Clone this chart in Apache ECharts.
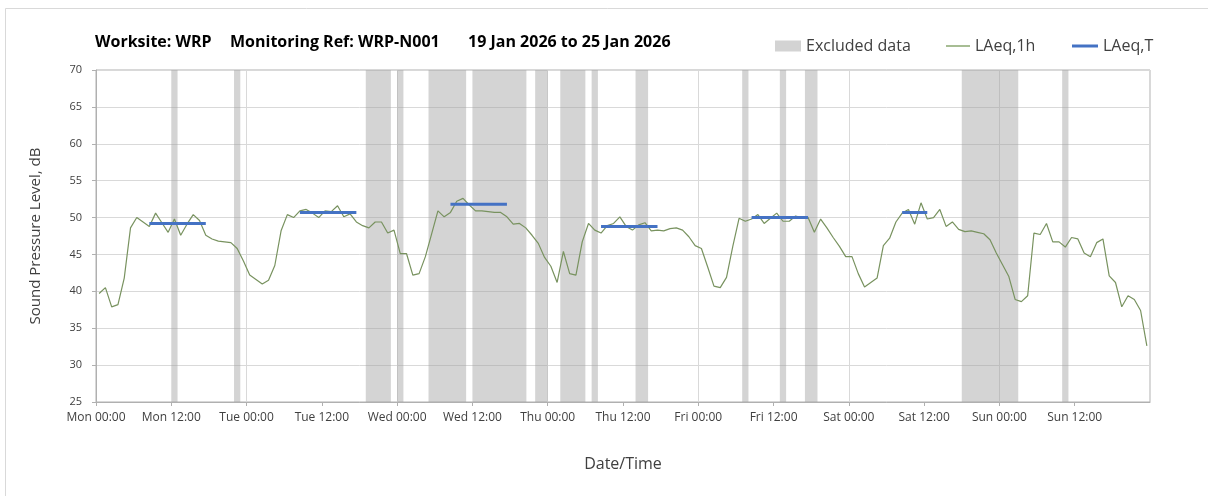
<!DOCTYPE html>
<html>
<head>
<meta charset="utf-8">
<script src="https://cdn.jsdelivr.net/npm/echarts@6/dist/echarts.min.js"></script>
<style>
  html, body { margin: 0; background: #fff; }
  #chart { width: 1208px; height: 496px; }
</style>
</head>
<body>
<div id="chart"></div>
<script>
const dayNames = ['Mon', 'Tue', 'Wed', 'Thu', 'Fri', 'Sat', 'Sun'];

// LAeq,1h, one value per hour from Mon 00:00
const hourlyLevels = [
  39.7, 40.5, 37.9, 38.2, 41.8, 48.6, 50.0, 49.4, 48.8, 50.6, 49.3, 48.0,
  49.8, 47.6, 49.1, 50.4, 49.6, 47.6, 47.1, 46.8, 46.7, 46.6, 45.8, 44.1,
  42.2, 41.6, 41.0, 41.5, 43.5, 48.2, 50.4, 50.0, 50.9, 51.1, 50.6, 50.0,
  50.9, 50.8, 51.6, 50.1, 50.5, 49.4, 48.9, 48.6, 49.4, 49.4, 47.9, 48.3,
  45.1, 45.1, 42.2, 42.4, 44.7, 47.8, 50.9, 50.1, 50.7, 52.2, 52.6, 51.7,
  50.9, 50.9, 50.8, 50.7, 50.7, 50.1, 49.1, 49.2, 48.6, 47.6, 46.5, 44.6,
  43.4, 41.2, 45.4, 42.4, 42.2, 46.7, 49.2, 48.3, 47.9, 48.9, 49.2, 50.1,
  48.8, 48.3, 49.0, 49.3, 48.2, 48.3, 48.2, 48.5, 48.6, 48.3, 47.4, 46.2,
  45.8, 43.3, 40.7, 40.5, 41.9, 46.1, 49.9, 49.5, 49.8, 50.4, 49.2, 49.9,
  50.6, 49.5, 49.5, 50.2, 50.0, 50.0, 48.0, 49.8, 48.6, 47.3, 46.1, 44.7,
  44.7, 42.4, 40.6, 41.2, 41.8, 46.2, 47.2, 49.4, 50.6, 51.1, 49.1, 52.0,
  49.8, 50.0, 51.1, 48.8, 49.4, 48.4, 48.1, 48.2, 48.0, 47.8, 47.0, 45.2,
  43.6, 42.0, 38.9, 38.6, 39.4, 47.9, 47.7, 49.2, 46.7, 46.7, 46.0, 47.3,
  47.1, 45.2, 44.7, 46.6, 47.1, 42.1, 41.2, 37.9, 39.4, 38.9, 37.4, 32.6
];

// LAeq,T periods (hours from Mon 00:00)
const periodStart = [8.5, 32.5, 56.5, 80.5, 104.5, 128.5];
const periodEnd = [17.5, 41.5, 65.5, 89.5, 113.5, 132.5];
const periodLevel = [49.2, 50.7, 51.8, 48.8, 50.0, 50.7];

// excluded data blocks (hours from Mon 00:00)
const excludedStart = [12, 22, 43, 48, 53, 60, 70, 74, 79, 86, 103, 109, 113, 138, 154];
const excludedEnd = [13, 23, 47, 49, 59, 68.6, 72, 78, 80, 88, 104, 110, 115, 147, 155];

const yMin = 25;
const yMax = 70;

const font = '"Open Sans", "Noto Sans", sans-serif';
const textGrey = '#404040';
const gridGrey = '#d9d9d9';
const axisGrey = '#b0b0b0';

const chart = echarts.init(document.getElementById('chart'), null, { renderer: 'canvas' });

const periodSeries = periodStart.map((s, i) => ({
  name: 'LAeq,T',
  type: 'line',
  z: 4,
  showSymbol: false,
  silent: true,
  lineStyle: { color: '#4472c4', width: 3 },
  itemStyle: { color: '#4472c4' },
  data: [[s, periodLevel[i]], [periodEnd[i], periodLevel[i]]],
}));

chart.setOption({
  animation: false,
  backgroundColor: '#fff',
  textStyle: { fontFamily: font },
  graphic: [{
    type: 'rect',
    shape: { x: 5.5, y: 8.5, width: 1400, height: 700 },
    style: { fill: 'none', stroke: gridGrey, lineWidth: 1 },
    silent: true,
  }],
  title: [
    { text: 'Worksite: WRP', left: 90 },
    { text: 'Monitoring Ref: WRP-N001', left: 225 },
    { text: '19 Jan 2026 to 25 Jan 2026', left: 463 },
  ].map((t) => ({
    ...t,
    top: 29,
    textStyle: { fontFamily: font, fontSize: 16, fontWeight: 'bold', color: '#000' },
  })),
  legend: [
    { data: [{ name: 'Excluded data', icon: 'rect', itemStyle: { color: '#d3d3d3' } }], left: 770, itemWidth: 26, itemHeight: 11 },
    { data: [{ name: 'LAeq,1h', icon: 'rect', itemStyle: { color: '#4f7a28' } }], left: 941, itemWidth: 24, itemHeight: 1 },
    { data: [{ name: 'LAeq,T', icon: 'rect', itemStyle: { color: '#4472c4' } }], left: 1067, itemWidth: 26, itemHeight: 3 },
  ].map((l) => ({
    ...l,
    top: 33,
    selectedMode: false,
    itemGap: 0,
    textStyle: { fontFamily: font, fontSize: 16, color: textGrey },
  })),
  grid: {
    left: 96, right: 58, top: 70, bottom: 94,
    show: true, borderColor: axisGrey, borderWidth: 1,
  },
  xAxis: [{
    type: 'value',
    min: 0,
    max: 168,
    interval: 12,
    name: 'Date/Time',
    nameLocation: 'middle',
    nameGap: 54,
    nameTextStyle: { fontFamily: font, fontSize: 16, color: textGrey },
    axisLine: { lineStyle: { color: axisGrey } },
    axisTick: { show: true, length: 4, lineStyle: { color: axisGrey } },
    axisLabel: {
      showMaxLabel: false,
      margin: 10,
      fontFamily: font,
      fontSize: 12,
      color: textGrey,
      formatter: (v) => dayNames[Math.floor(v / 24)] + (v % 24 === 0 ? ' 00:00' : ' 12:00'),
    },
    splitLine: { show: false },
  }, {
    // day boundaries only
    type: 'value',
    min: 0,
    max: 168,
    interval: 24,
    position: 'bottom',
    axisLine: { show: false },
    axisTick: { show: false },
    axisLabel: { show: false },
    splitLine: { show: true, lineStyle: { color: gridGrey } },
  }],
  yAxis: {
    type: 'value',
    min: yMin,
    max: yMax,
    interval: 5,
    name: 'Sound Pressure Level, dB',
    nameLocation: 'middle',
    nameGap: 53,
    nameTextStyle: { fontFamily: font, fontSize: 15, color: textGrey },
    axisLine: { show: true, lineStyle: { color: axisGrey } },
    axisTick: { show: true, length: 4, lineStyle: { color: axisGrey } },
    axisLabel: { margin: 14, fontFamily: font, fontSize: 11, color: textGrey },
    splitLine: { show: true, lineStyle: { color: gridGrey } },
  },
  series: [
    {
      // translucent blocks so the grid lines show through darker
      name: 'Excluded data',
      type: 'custom',
      z: 1,
      silent: true,
      itemStyle: { color: '#d3d3d3' },
      encode: { x: [0, 1] },
      data: excludedStart.map((s, i) => [s, excludedEnd[i]]),
      renderItem: (params, api) => {
        const a = api.coord([api.value(0), yMax]);
        const b = api.coord([api.value(1), yMin]);
        return {
          type: 'rect',
          shape: { x: a[0], y: a[1], width: b[0] - a[0], height: b[1] - a[1] },
          style: { fill: 'rgba(160,160,160,0.45)' },
        };
      },
    },
    {
      name: 'LAeq,1h',
      type: 'line',
      z: 3,
      showSymbol: false,
      silent: true,
      lineStyle: { color: '#78925f', width: 1.2 },
      itemStyle: { color: '#4f7a28' },
      data: hourlyLevels.map((v, i) => [i + 0.5, v]),
    },
    ...periodSeries,
  ],
});
</script>
</body>
</html>
